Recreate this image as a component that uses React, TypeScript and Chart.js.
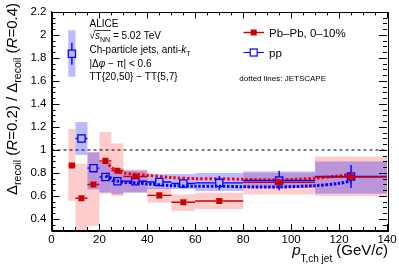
import React, { useEffect, useRef } from "react";
import { Chart, registerables } from "chart.js";

Chart.register(...registerables);

// ---------- data ----------
const binLo = [7, 10, 15, 20, 25, 30, 40, 50, 60, 80, 110];
const binHi = [10, 15, 20, 25, 30, 40, 50, 60, 80, 110, 140];
const binCenter = [8.5, 12.5, 17.5, 22.5, 27.5, 35, 45, 55, 70, 95, 125];

const pbpbY = [0.865, 0.58, 0.70, 0.905, 0.82, 0.77, 0.605, 0.545, 0.557, 0.718, 0.765];
const pbpbStat = [0.02, 0.02, 0.02, 0.02, 0.02, 0.02, 0.015, 0.015, 0.015, 0.02, 0.03];
const pbpbSysLo = [0.557, 0.28, 0.34, 0.62, 0.60, 0.63, 0.543, 0.471, 0.486, 0.614, 0.60];
const pbpbSysHi = [1.18, 0.88, 0.98, 1.157, 1.057, 0.83, 0.671, 0.614, 0.628, 0.80, 0.943];

const ppY = [1.836, 1.10, 0.842, 0.765, 0.728, 0.728, 0.722, 0.709, 0.714, 0.734, 0.77];
const ppStat = [0.096, 0.035, 0.03, 0.03, 0.02, 0.02, 0.035, 0.03, 0.06, 0.085, 0.1];
const ppSysLo = [1.637, 0.957, 0.657, 0.63, 0.615, 0.63, 0.66, 0.66, 0.643, 0.671, 0.62];
const ppSysHi = [2.04, 1.243, 0.98, 0.90, 0.84, 0.82, 0.79, 0.79, 0.80, 0.814, 0.90];

const jetscapeX = [22.5, 25, 27.5, 30, 35, 40, 50, 60, 70, 80, 95, 110, 120, 125];
const jetscapePbPb = [0.90, 0.85, 0.815, 0.80, 0.79, 0.78, 0.76, 0.75, 0.75, 0.745, 0.74, 0.755, 0.775, 0.79];
const jetscapePp = [0.775, 0.75, 0.73, 0.72, 0.715, 0.705, 0.69, 0.685, 0.685, 0.68, 0.678, 0.69, 0.71, 0.73];

const xTicks = [0, 20, 40, 60, 80, 100, 120, 140];
const yTicks = [0.4, 0.6, 0.8, 1.0, 1.2, 1.4, 1.6, 1.8, 2.0, 2.2];

// ---------- style ----------
const FONT = '"Liberation Sans", Arial, Helvetica, sans-serif';
const RED = "#cc0000";
const BLUE = "#0000ff";
const PINK = "rgba(255,0,0,0.2)";
const LBLUE = "rgba(0,0,255,0.27)";
const LABEL_PBPB = "Pb–Pb, 0–10%";
const LABEL_PP = "pp";

type Run = { t: string; size: number; italic?: boolean; dy?: number };

function runsWidth(ctx: CanvasRenderingContext2D, runs: Run[]) {
  let w = 0;
  for (const r of runs) {
    ctx.font = `${r.italic ? "italic " : ""}${r.size}px ${FONT}`;
    w += ctx.measureText(r.t).width;
  }
  return w;
}

function drawRuns(ctx: CanvasRenderingContext2D, runs: Run[], x: number, y: number, align: "left" | "right" = "left") {
  const total = runsWidth(ctx, runs);
  let cx = align === "right" ? x - total : x;
  ctx.textAlign = "left";
  ctx.textBaseline = "alphabetic";
  const pos: number[] = [];
  for (const r of runs) {
    ctx.font = `${r.italic ? "italic " : ""}${r.size}px ${FONT}`;
    pos.push(cx);
    ctx.fillText(r.t, cx, y + (r.dy || 0));
    cx += ctx.measureText(r.t).width;
  }
  pos.push(cx);
  return pos;
}

const rootPlugin = {
  id: "rootStyle",
  beforeDatasetsDraw(chart: any) {
    const { ctx, chartArea: a, scales } = chart;
    const x = scales.x, y = scales.y;
    ctx.save();
    ctx.beginPath();
    ctx.rect(a.left, a.top, a.right - a.left, a.bottom - a.top);
    ctx.clip();
    ctx.fillStyle = PINK;
    for (let i = 0; i < binLo.length; i++) {
      const x0 = x.getPixelForValue(binLo[i]);
      const x1 = x.getPixelForValue(binHi[i]);
      const y0 = y.getPixelForValue(pbpbSysHi[i]);
      const y1 = y.getPixelForValue(pbpbSysLo[i]);
      ctx.fillRect(x0, y0, x1 - x0, y1 - y0);
    }
    ctx.fillStyle = LBLUE;
    for (let i = 0; i < binLo.length; i++) {
      const x0 = x.getPixelForValue(binLo[i]);
      const x1 = x.getPixelForValue(binHi[i]);
      const y0 = y.getPixelForValue(ppSysHi[i]);
      const y1 = y.getPixelForValue(ppSysLo[i]);
      ctx.fillRect(x0, y0, x1 - x0, y1 - y0);
    }
    ctx.restore();
  },
  beforeDatasetDraw(chart: any, args: any) {
    const ds = chart.data.datasets[args.index];
    const { ctx, scales } = chart;
    const x = scales.x, y = scales.y;
    let vals: number[] | null = null, stat: number[] = [], color = "", half = 0;
    if (ds.label === LABEL_PP) { vals = ppY; stat = ppStat; color = BLUE; half = 3.8; }
    if (ds.label === LABEL_PBPB) { vals = pbpbY; stat = pbpbStat; color = RED; half = 3; }
    if (!vals) return;
    ctx.save();
    ctx.strokeStyle = color;
    ctx.lineWidth = 1.4;
    for (let i = 0; i < vals.length; i++) {
      const cx = x.getPixelForValue(binCenter[i]);
      const cy = y.getPixelForValue(vals[i]);
      const xl = x.getPixelForValue(binLo[i]);
      const xr = x.getPixelForValue(binHi[i]);
      const yt = y.getPixelForValue(vals[i] + stat[i]);
      const yb = y.getPixelForValue(vals[i] - stat[i]);
      ctx.beginPath();
      ctx.moveTo(xl, cy); ctx.lineTo(cx - half, cy);
      ctx.moveTo(cx + half, cy); ctx.lineTo(xr, cy);
      if (cy - yt > half) { ctx.moveTo(cx, yt); ctx.lineTo(cx, cy - half); }
      if (yb - cy > half) { ctx.moveTo(cx, cy + half); ctx.lineTo(cx, yb); }
      ctx.stroke();
    }
    ctx.restore();
  },
  afterDraw(chart: any) {
    const { ctx, chartArea: a, scales } = chart;
    const x = scales.x, y = scales.y;
    ctx.save();
    // frame
    ctx.strokeStyle = "#000";
    ctx.lineWidth = 1;
    ctx.strokeRect(Math.round(a.left) + 0.5, Math.round(a.top) + 0.5, Math.round(a.right - a.left), Math.round(a.bottom - a.top));
    // x ticks (inside, bottom and top)
    ctx.beginPath();
    for (let v = 0; v <= 140 + 1e-6; v += 5) {
      const px = Math.round(x.getPixelForValue(v)) + 0.5;
      const len = v % 20 === 0 ? 6.5 : 3.5;
      ctx.moveTo(px, a.bottom); ctx.lineTo(px, a.bottom - len);
      ctx.moveTo(px, a.top); ctx.lineTo(px, a.top + len);
    }
    // y ticks (inside, left and right)
    for (let k = 6; k <= 44; k++) {
      const v = k * 0.05;
      const py = Math.round(y.getPixelForValue(v)) + 0.5;
      const len = k % 4 === 0 ? 8 : 4;
      ctx.moveTo(a.left, py); ctx.lineTo(a.left + len, py);
      ctx.moveTo(a.right, py); ctx.lineTo(a.right - len, py);
    }
    ctx.stroke();

    ctx.fillStyle = "#000";
    // y title (rotated)
    ctx.save();
    ctx.translate(16.5, 3);
    ctx.rotate(-Math.PI / 2);
    drawRuns(ctx, [
      { t: "Δ", size: 15 },
      { t: "recoil", size: 10.5, dy: 4.5 },
      { t: " (", size: 15 },
      { t: "R", size: 15, italic: true },
      { t: "=0.2) / ", size: 15 },
      { t: "Δ", size: 15 },
      { t: "recoil", size: 10.5, dy: 4.5 },
      { t: " (", size: 15 },
      { t: "R", size: 15, italic: true },
      { t: "=0.4)", size: 15 },
    ], 0, 0, "right");
    ctx.restore();

    // x title
    drawRuns(ctx, [
      { t: "p", size: 15, italic: true },
      { t: "T,ch jet", size: 10, dy: 7.5 },
      { t: " (GeV/", size: 15 },
      { t: "c", size: 15, italic: true },
      { t: ")", size: 15 },
    ], 388, 254.5, "right");

    // ALICE block
    const tx = 89.5;
    drawRuns(ctx, [{ t: "ALICE", size: 10 }], tx, 26.7);
    const p = drawRuns(ctx, [
      { t: "√", size: 10 },
      { t: "s", size: 10, italic: true },
      { t: "NN", size: 7, dy: 2.5 },
      { t: " = 5.02 TeV", size: 10 },
    ], tx, 39);
    ctx.lineWidth = 0.8;
    ctx.beginPath();
    ctx.moveTo(p[1] - 0.5, 30.5);
    ctx.lineTo(p[3] + 0.5, 30.5);
    ctx.stroke();
    drawRuns(ctx, [
      { t: "Ch-particle jets, anti-", size: 10 },
      { t: "k", size: 10, italic: true },
      { t: "T", size: 7, dy: 2.5 },
    ], tx, 53.2);
    drawRuns(ctx, [
      { t: "|Δ", size: 10 },
      { t: "φ", size: 10, italic: true },
      { t: " − π| < 0.6", size: 10 },
    ], tx, 66.5);
    drawRuns(ctx, [{ t: "TT{20,50} − TT{5,7}", size: 10 }], tx, 80);

    // legend
    ctx.lineWidth = 1.4;
    ctx.strokeStyle = RED;
    ctx.beginPath(); ctx.moveTo(243.5, 32.5); ctx.lineTo(264, 32.5); ctx.stroke();
    ctx.fillStyle = RED;
    ctx.fillRect(250.7, 29.5, 6, 6);
    ctx.strokeStyle = BLUE;
    ctx.lineWidth = 1.2;
    ctx.beginPath();
    ctx.moveTo(243.5, 52.5); ctx.lineTo(250, 52.5);
    ctx.moveTo(257.5, 52.5); ctx.lineTo(264, 52.5);
    ctx.stroke();
    ctx.strokeRect(250.2, 49, 7, 7);
    ctx.fillStyle = "#000";
    drawRuns(ctx, [{ t: LABEL_PBPB, size: 11.5 }], 269, 37.3);
    drawRuns(ctx, [{ t: LABEL_PP, size: 11.5 }], 269, 56.5);
    drawRuns(ctx, [{ t: "dotted lines: JETSCAPE", size: 8 }], 239.3, 80.5);
    ctx.restore();
  },
};

export default function App() {
  const ref = useRef<HTMLCanvasElement | null>(null);
  useEffect(() => {
    const canvas = ref.current;
    if (!canvas) return;
    const tickFont = { family: FONT, size: 11.5 };
    const chart = new Chart(canvas, {
      type: "scatter",
      data: {
        datasets: [
          {
            label: LABEL_PBPB,
            data: binCenter.map((v, i) => ({ x: v, y: pbpbY[i] })),
            pointStyle: "rect",
            pointRadius: 4.3,
            backgroundColor: RED,
            borderColor: RED,
            borderWidth: 0,
          },
          {
            label: LABEL_PP,
            data: binCenter.map((v, i) => ({ x: v, y: ppY[i] })),
            pointStyle: "rect",
            pointRadius: 5.1,
            backgroundColor: "rgba(0,0,0,0)",
            borderColor: BLUE,
            borderWidth: 1.3,
          },
          {
            type: "line",
            label: "JETSCAPE pp",
            data: jetscapeX.map((v, i) => ({ x: v, y: jetscapePp[i] })),
            borderColor: BLUE,
            borderWidth: 3,
            borderDash: [2.5, 1.6],
            pointRadius: 0,
            tension: 0.3,
            fill: false,
          },
          {
            type: "line",
            label: "JETSCAPE Pb-Pb",
            data: jetscapeX.map((v, i) => ({ x: v, y: jetscapePbPb[i] })),
            borderColor: "#ff0000",
            borderWidth: 3,
            borderDash: [2.5, 2],
            pointRadius: 0,
            tension: 0.3,
            fill: false,
          },
          {
            type: "line",
            label: "unity",
            data: [{ x: 0, y: 1 }, { x: 140, y: 1 }],
            borderColor: "#000",
            borderWidth: 1,
            borderDash: [3, 3],
            pointRadius: 0,
            fill: false,
          },
        ],
      } as any,
      options: {
        animation: false,
        responsive: false,
        devicePixelRatio: 1,
        layout: { padding: { top: 8, right: 12, left: 0, bottom: 0 } },
        plugins: { legend: { display: false }, tooltip: { enabled: false } },
        scales: {
          x: {
            type: "linear",
            min: 0,
            max: 140,
            afterBuildTicks: (s: any) => { s.ticks = xTicks.map((v) => ({ value: v })); },
            afterFit: (s: any) => { s.height = 39.5; },
            ticks: { font: tickFont, color: "#000", padding: 2, maxRotation: 0, autoSkip: false, callback: (v: any) => String(v) },
            grid: { display: false, drawTicks: false },
            border: { display: true, color: "#000", width: 1 },
          },
          y: {
            type: "linear",
            min: 0.3,
            max: 2.2,
            afterBuildTicks: (s: any) => { s.ticks = yTicks.map((v) => ({ value: v })); },
            afterFit: (s: any) => { s.width = 51.5; },
            ticks: { font: tickFont, color: "#000", padding: 5, autoSkip: false, callback: (v: any) => String(Math.round(Number(v) * 10) / 10) },
            grid: { display: false, drawTicks: false },
            border: { display: true, color: "#000", width: 1 },
          },
        },
      } as any,
      plugins: [rootPlugin as any],
    });
    return () => chart.destroy();
  }, []);
  return (
    <div style={{ position: "absolute", left: 0, top: 0, width: 399, height: 270, background: "#fff" }}>
      <canvas ref={ref} width={399} height={270} style={{ width: 399, height: 270, display: "block" }} />
    </div>
  );
}
